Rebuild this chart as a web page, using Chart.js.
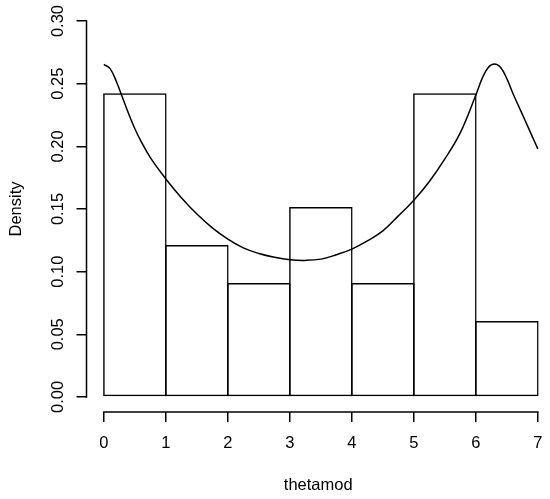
<!DOCTYPE html>
<html><head><meta charset="utf-8">
<script src="https://cdn.jsdelivr.net/npm/chart.js@4/dist/chart.umd.min.js"></script>
<style>html,body{margin:0;padding:0;background:#fff;}</style>
</head><body>
<canvas id="c" width="550" height="499"></canvas>
<script>
const binMids = [0.5, 1.5, 2.5, 3.5, 4.5, 5.5, 6.5];
const binDensity = [0.2424, 0.1212, 0.0909, 0.1515, 0.0909, 0.2424, 0.0606];
const densX = [0, 0.1, 0.2, 0.3, 0.4, 0.5, 0.6, 0.75, 1.0, 1.25, 1.5, 1.75, 2.0, 2.25, 2.5, 2.75, 3.0, 3.25, 3.5, 3.75, 4.0, 4.25, 4.5, 4.75, 5.0, 5.25, 5.5, 5.75, 6.0, 6.1, 6.2, 6.3, 6.4, 6.5, 6.6, 6.7, 6.8, 6.9, 7.0];
const densY = [0.2655, 0.262, 0.252, 0.239, 0.226, 0.214, 0.204, 0.191, 0.174, 0.159, 0.146, 0.135, 0.126, 0.119, 0.1145, 0.1115, 0.1095, 0.109, 0.110, 0.1135, 0.118, 0.1245, 0.1325, 0.1445, 0.157, 0.172, 0.190, 0.211, 0.241, 0.254, 0.263, 0.2657, 0.263, 0.254, 0.242, 0.231, 0.220, 0.209, 0.198];
const xTicks = [0, 1, 2, 3, 4, 5, 6, 7];
const xTickLabels = ["0", "1", "2", "3", "4", "5", "6", "7"];
const yTicks = [0, 0.05, 0.10, 0.15, 0.20, 0.25, 0.30];
const yTickLabels = ["0.00", "0.05", "0.10", "0.15", "0.20", "0.25", "0.30"];
const xTitle = "thetamod";
const yTitle = "Density";

const FONT_FAMILY = '"Liberation Sans", Arial, Helvetica, sans-serif';
const FONT_SIZE = 16.5;

const axesPlugin = {
  id: 'rAxes',
  afterDraw(chart) {
    const ctx = chart.ctx;
    const xs = chart.scales.x, ys = chart.scales.y;
    const ca = chart.chartArea;
    ctx.save();
    ctx.strokeStyle = '#000';
    ctx.lineWidth = 1.5;
    ctx.beginPath();
    ctx.moveTo(ca.left, ys.getPixelForValue(yTicks[0]) + 0.75);
    ctx.lineTo(ca.left, ys.getPixelForValue(yTicks[yTicks.length - 1]) - 0.75);
    ctx.stroke();
    ctx.beginPath();
    ctx.moveTo(xs.getPixelForValue(xTicks[0]) - 0.75, ca.bottom);
    ctx.lineTo(xs.getPixelForValue(xTicks[xTicks.length - 1]) + 0.75, ca.bottom);
    ctx.stroke();
    ctx.fillStyle = '#000';
    ctx.font = FONT_SIZE + 'px ' + FONT_FAMILY;
    ctx.textAlign = 'center';
    ctx.textBaseline = 'alphabetic';
    yTicks.forEach((v, i) => {
      ctx.save();
      ctx.translate(ca.left - 24, ys.getPixelForValue(v));
      ctx.rotate(-Math.PI / 2);
      ctx.fillText(yTickLabels[i], 0, 0);
      ctx.restore();
    });
    ctx.restore();
  }
};

new Chart(document.getElementById('c'), {
  type: 'bar',
  data: {
    datasets: [
      {
        type: 'line',
        data: densX.map((x, i) => ({ x: x, y: densY[i] })),
        borderColor: '#000',
        borderWidth: 1.5,
        pointRadius: 0,
        pointHoverRadius: 0,
        pointHitRadius: 0,
        fill: false,
        tension: 0.4,
        order: 0
      },
      {
        type: 'bar',
        data: binMids.map((x, i) => ({ x: x, y: binDensity[i] })),
        backgroundColor: 'rgba(255,255,255,0)',
        borderColor: '#000',
        borderWidth: 1.5,
        borderSkipped: false,
        barPercentage: 1,
        categoryPercentage: 1.024,
        order: 1
      }
    ]
  },
  options: {
    responsive: false,
    animation: false,
    devicePixelRatio: 1,
    layout: { autoPadding: false, padding: { top: 6, right: 0, left: 0, bottom: 0 } },
    plugins: { legend: { display: false }, tooltip: { enabled: false } },
    scales: {
      x: {
        type: 'linear',
        position: 'bottom',
        min: -0.28,
        max: 7.196,
        offset: false,
        afterBuildTicks: s => { s.ticks = xTicks.map(v => ({ value: v })); },
        afterFit: s => { s.height = 87; s.paddingLeft = 0; s.paddingRight = 0; },
        ticks: {
          autoSkip: false,
          maxRotation: 0,
          padding: 12,
          color: '#000',
          font: { family: FONT_FAMILY, size: FONT_SIZE },
          callback: (v) => xTickLabels[xTicks.indexOf(v)]
        },
        grid: { offset: false, drawOnChartArea: false, drawTicks: true, tickLength: 10, color: '#000', lineWidth: 1.5 },
        border: { display: false },
        title: {
          display: true, text: xTitle, color: '#000',
          font: { family: FONT_FAMILY, size: FONT_SIZE },
          padding: { top: 0, bottom: 4 }
        }
      },
      y: {
        type: 'linear',
        min: -0.012,
        max: 0.312,
        afterBuildTicks: s => { s.ticks = yTicks.map(v => ({ value: v })); },
        afterFit: s => { s.width = 86.5; s.paddingTop = 0; s.paddingBottom = 0; },
        ticks: { display: false },
        grid: { drawOnChartArea: false, drawTicks: true, tickLength: 10, color: '#000', lineWidth: 1.5 },
        border: { display: false },
        title: {
          display: true, text: yTitle, color: '#000',
          font: { family: FONT_FAMILY, size: FONT_SIZE },
          padding: { top: 7, bottom: 0 }
        }
      }
    }
  },
  plugins: [axesPlugin]
});
</script>
</body></html>
